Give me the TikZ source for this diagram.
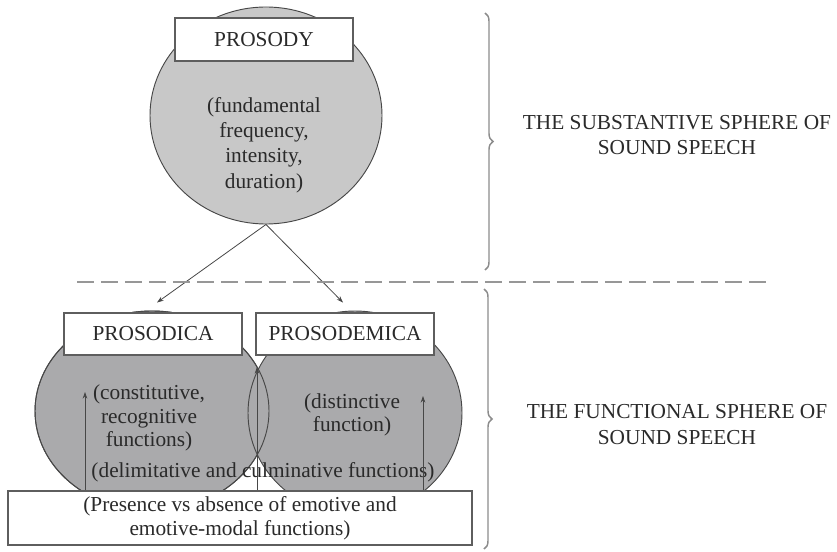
\documentclass[tikz,border=0pt]{standalone}
\usepackage{fontspec}
\setmainfont{Liberation Serif}
\usetikzlibrary{shapes.geometric,arrows.meta,decorations.pathreplacing}
\definecolor{upperfill}{HTML}{C8C8C8}
\definecolor{lowerfill}{HTML}{AAAAAC}
\definecolor{edgecolor}{HTML}{474747}
\definecolor{boxedge}{HTML}{5E5E5E}
\definecolor{textcolor}{HTML}{2A2A2A}
\definecolor{bracecolor}{HTML}{8C8C8C}

\begin{document}
\begin{tikzpicture}[x=0.75pt, y=-0.75pt,
  sphere/.style={ellipse, draw=edgecolor, line width=0.7pt, inner sep=0pt},
  namebox/.style={draw=boxedge, fill=white, line width=0.8pt, minimum width=133.5pt, minimum height=31.5pt, inner sep=0pt, text=textcolor, font=\fontsize{16pt}{19pt}\selectfont},
  note/.style={align=center, text=textcolor, inner sep=0pt, font=\fontsize{16pt}{19pt}\selectfont},
  link/.style={draw=edgecolor, line width=0.6pt, -{Stealth[length=5pt,width=3.5pt]}},
  divider/.style={draw=bracecolor!90, line width=1.4pt, dash pattern=on 12.75pt off 5.25pt},
  sphbrace/.style={draw=bracecolor, line width=1.1pt, decorate, decoration={brace, amplitude=6pt}},
]%
\useasboundingbox (0,0) rectangle (837,552);%
% the three spheres
\node[sphere, fill=upperfill, minimum width=174pt, minimum height=162.75pt] (prosody) at (266,115.5) {};%
\node[sphere, fill=lowerfill, minimum width=175.5pt, minimum height=150pt] (prosodica) at (152,411) {};%
\node[sphere, fill=lowerfill, minimum width=160.5pt, minimum height=153pt] (prosodemica) at (355,413) {};%
\node[sphere, minimum width=175.5pt, minimum height=150pt] (prosodicaedge) at (prosodica.center) {};%
% name boxes
\node[namebox, minimum height=32.25pt] (prosodylbl) at (264,39.5) {PROSODY};%
\node[namebox] (prosodicalbl) at (153,334) {PROSODICA};%
\node[namebox] (prosodemicalbl) at (345,334) {PROSODEMICA};%
\node[namebox, minimum width=348pt, minimum height=40.5pt, align=center, font=\fontsize{16pt}{18pt}\selectfont] (emotive) at (240,518) {(Presence vs absence of emotive and\\emotive-modal functions)};%
% texts inside the spheres
\node[note] (acoustic) at (264,145) {(fundamental\\frequency,\\intensity,\\duration)};%
\node[note, font=\fontsize{16pt}{17.5pt}\selectfont] (constit) at (149,418) {(constitutive,\\recognitive\\functions)};%
\node[note, font=\fontsize{16pt}{17.5pt}\selectfont] (distinct) at (352,415) {(distinctive\\function)};%
\node[note] (delim) at (263,472) {(delimitative and culminative functions)};%
% sphere names on the right
\node[note] (substantive) at (677,135) {THE SUBSTANTIVE SPHERE OF\\SOUND SPEECH};%
\node[note] (functional) at (677,424.5) {THE FUNCTIONAL SPHERE OF\\SOUND SPEECH};%
% arrows
\draw[link] (prosody.south) -- ([shift={(5,-8)}]prosodica.north);%
\draw[link] (prosody.south) -- ([shift={(-12,-8)}]prosodemica.north);%
\coordinate (up1) at (85,392);%
\coordinate (up2) at (257,367);%
\coordinate (up3) at (423,396);%
\foreach \tip in {up1,up2,up3}
  \draw[link] (emotive.north -| \tip) -- (\tip);%
% divider and braces
\coordinate (divl) at (77,282);%
\coordinate (divr) at (771,282);%
\draw[divider] (divl) -- (divr);%
\coordinate (topa) at (485,13);%
\coordinate (topb) at (485,270);%
\coordinate (lowa) at (484,289);%
\coordinate (lowb) at (484,549);%
\draw[sphbrace] (topa) -- (topb);%
\draw[sphbrace] (lowa) -- (lowb);%
\end{tikzpicture}
\end{document}
